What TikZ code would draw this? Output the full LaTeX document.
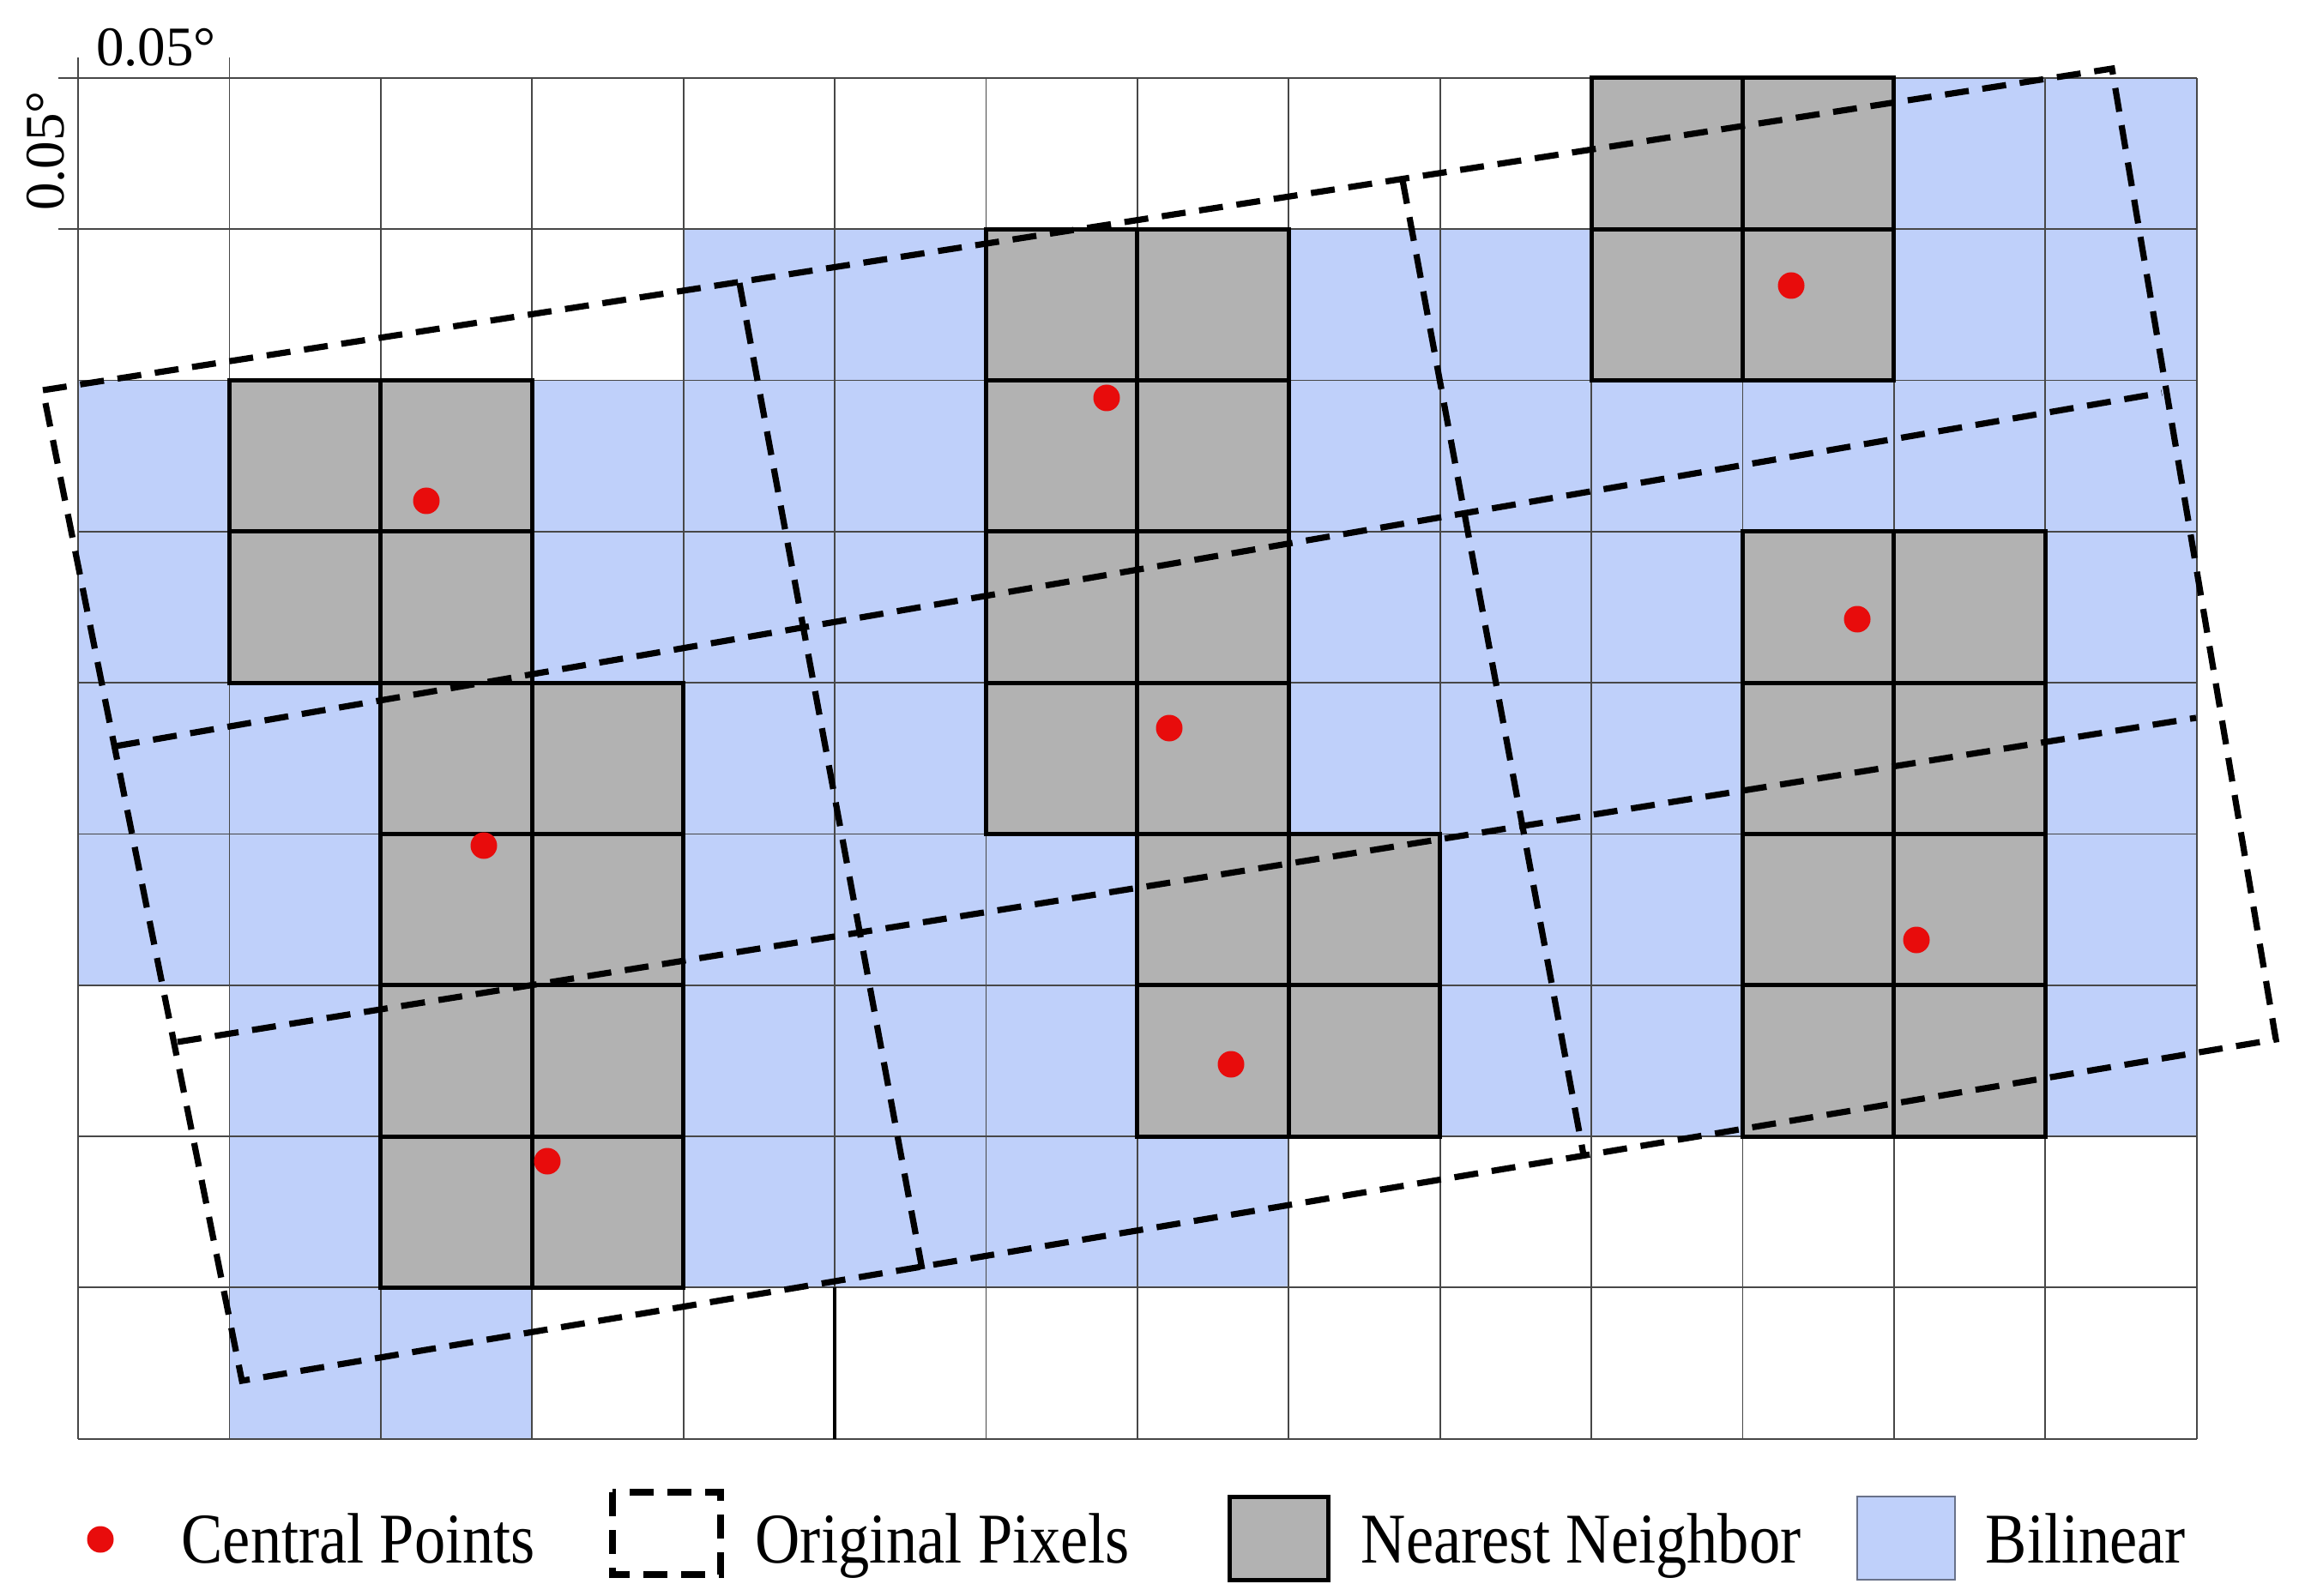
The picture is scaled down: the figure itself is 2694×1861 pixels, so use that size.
\documentclass[tikz,border=0pt]{standalone}
\usepackage{fontspec}
\setmainfont{Liberation Serif}
\begin{document}
\begin{tikzpicture}[x=0.1mm,y=-0.1mm]
\definecolor{bl}{RGB}{191,208,250}
\definecolor{gr}{RGB}{178,178,178}
\definecolor{rd}{RGB}{232,12,12}
\tikzset{
 gridline/.style={draw=black!72, line width=0.18mm},
 nncell/.style={fill=gr, draw=black, line width=0.5mm},
 origpix/.style={draw=black, line width=0.72mm, dash pattern=on 2.8mm off 1.6mm},
 lbl/.style={font=\fontsize{20.6pt}{24pt}\selectfont, inner sep=0pt},
 dimlbl/.style={font=\fontsize{18.5pt}{22pt}\selectfont, inner sep=0pt},
}
\useasboundingbox (0,0) rectangle (2694,1861);
\fill[white] (0,0) rectangle (2694,1861);
% ---------------- grid of target cells ----------------
\begin{scope}[shift={(91,91)}]
\begin{scope}[x=17.64mm,y=-17.63mm]
 % bilinear (blue) area
 \fill[bl] (12,0) rectangle (14,1);
 \fill[bl] (4,1) rectangle (14,2);
 \fill[bl] (0,2) rectangle (14,6);
 \fill[bl] (1,6) rectangle (14,7);
 \fill[bl] (1,7) rectangle (8,8);
 \fill[bl] (1,8) rectangle (3,9);
 % thin grid
 \foreach \i in {0,...,14} \draw[gridline] (\i,0) -- (\i,9);
 \foreach \j in {0,...,9} \draw[gridline] (0,\j) -- (14,\j);
 % dimension ticks
 \draw[gridline] (0,0) -- (0,-0.135);
 \draw[gridline] (1,0) -- (1,-0.135);
 \draw[gridline] (0,0) -- (-0.13,0);
 \draw[gridline] (0,1) -- (-0.13,1);
 \draw[black, line width=0.4mm] (5,8) -- (5,9);
 % nearest neighbour (gray) cells
 \foreach \i/\j in {1/2,2/2,1/3,2/3,
                    2/4,3/4,2/5,3/5,2/6,3/6,2/7,3/7,
                    6/1,7/1,6/2,7/2,6/3,7/3,6/4,7/4,
                    7/5,8/5,7/6,8/6,
                    10/0,11/0,10/1,11/1,
                    11/3,12/3,11/4,12/4,11/5,12/5,11/6,12/6}
   \draw[nncell] (\i,\j) rectangle ++(1,1);
\end{scope}
\end{scope}
% ---------------- original (rotated) pixels ----------------
\coordinate (TL) at (50,455);
\coordinate (TR) at (2462,80);
\coordinate (BR) at (2653,1212);
\coordinate (BL) at (282,1610);
\coordinate (H1a) at (135,870);
\coordinate (H1b) at (2520,458);
\coordinate (H2a) at (207,1215);
\coordinate (H2b) at (2560,837);
\coordinate (V1a) at (862,330);
\coordinate (V1b) at (1075,1480);
\coordinate (V2a) at (1635,210);
\coordinate (V2b) at (1846,1347);
\draw[origpix] (TL) -- (TR) -- (BR) -- (BL) -- cycle;
\draw[origpix] (H1a) -- (H1b);
\draw[origpix] (H2a) -- (H2b);
\draw[origpix] (V1a) -- (V1b);
\draw[origpix] (V2a) -- (V2b);
% ---------------- central points ----------------
\foreach \x/\y in {497/584, 564/986, 638/1354,
                   1290/464, 1363/849, 1435/1241,
                   2088/333, 2165/722, 2234/1096}
  \fill[rd] (\x,\y) circle (1.55mm);
% ---------------- dimension labels ----------------
\node[dimlbl, anchor=base] (dimx) at (182,77) {0.05°};
\node[dimlbl, anchor=base, rotate=90] (dimy) at (75,176) {0.05°};
% ---------------- legend ----------------
\fill[rd] (117,1795) circle (1.55mm);
\node[lbl, anchor=base west] (lcp) at (211,1822) {\scalebox{1}[1.15]{Central Points}};
\draw[origpix] (714,1740) rectangle (840,1836);
\node[lbl, anchor=base west] (lop) at (880,1822) {\scalebox{1}[1.15]{Original Pixels}};
\draw[nncell] (1433,1745) rectangle (1548,1842);
\node[lbl, anchor=base west] (lnn) at (1586,1822) {\scalebox{1}[1.15]{Nearest Neighbor}};
\draw[fill=bl, draw=black!45!bl, line width=0.25mm] (2165,1745) rectangle (2279,1842);
\node[lbl, anchor=base west] (lbi) at (2314,1822) {\scalebox{1}[1.15]{Bilinear}};
\end{tikzpicture}
\end{document}
